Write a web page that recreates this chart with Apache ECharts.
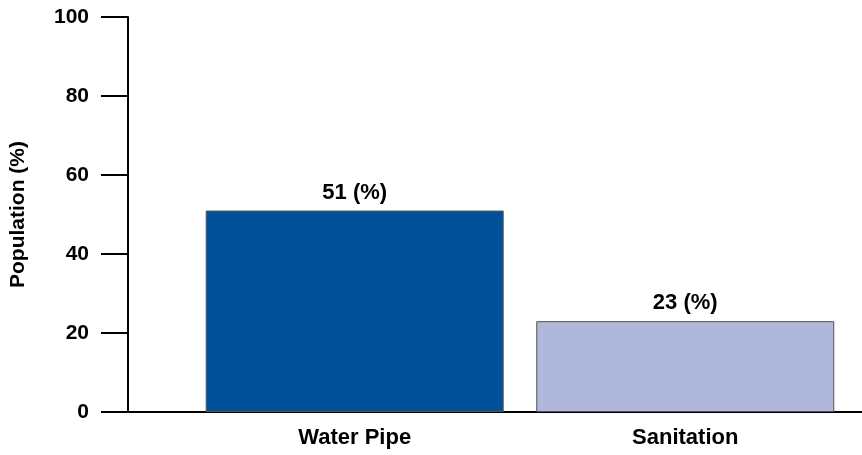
<!DOCTYPE html>
<html>
<head>
<meta charset="utf-8">
<script src="https://cdn.jsdelivr.net/npm/echarts@6/dist/echarts.min.js"></script>
<style>
  html, body { margin: 0; padding: 0; background: #fff; }
  #chart { width: 862px; height: 455px; }
</style>
</head>
<body>
<div id="chart"></div>
<script>
// Share of population with access to each service
const categories = ['Water Pipe', 'Sanitation'];
const values = [51, 23];
const barColors = ['#00509a', '#afb8da'];
const yTicks = [0, 20, 40, 60, 80, 100];

// bars sit at positions 1 and 2 on a numeric x scale
const positions = categories.map((_, i) => i + 1);

const chart = echarts.init(document.getElementById('chart'));
const font = 'Liberation Sans, Arial, sans-serif';

chart.setOption({
  animation: false,
  grid: { left: 127, right: 0, top: 17, bottom: 43 },
  xAxis: {
    type: 'value',
    min: 0.3142,
    max: 2.5347,
    splitLine: { show: false },
    axisLine: { show: true, onZero: false, lineStyle: { color: '#000', width: 2 } },
    axisTick: { show: false },
    axisLabel: {
      customValues: positions,
      formatter: v => categories[Math.round(v) - 1] || '',
      color: '#000',
      fontFamily: font,
      fontWeight: 'bold',
      fontSize: 22,
      margin: 15
    }
  },
  yAxis: {
    type: 'value',
    min: 0,
    max: 100,
    interval: 20,
    name: 'Population (%)',
    nameLocation: 'middle',
    nameGap: 99,
    nameTextStyle: { color: '#000', fontFamily: font, fontWeight: 'bold', fontSize: 21 },
    splitLine: { show: false },
    axisLine: { show: true, lineStyle: { color: '#000', width: 2 } },
    axisTick: { show: true, inside: false, length: 27, lineStyle: { color: '#000', width: 2 } },
    axisLabel: {
      customValues: yTicks,
      color: '#000',
      fontFamily: font,
      fontWeight: 'bold',
      fontSize: 21,
      margin: 39
    }
  },
  series: [{
    type: 'bar',
    barWidth: 298,
    data: positions.map((x, i) => ({
      value: [x, values[i]],
      itemStyle: { color: barColors[i], borderColor: '#555', borderWidth: 1 }
    })),
    label: {
      show: true,
      position: 'top',
      distance: 7,
      formatter: p => p.value[1] + ' (%)',
      color: '#000',
      fontFamily: font,
      fontWeight: 'bold',
      fontSize: 22
    }
  }]
});
</script>
</body>
</html>
